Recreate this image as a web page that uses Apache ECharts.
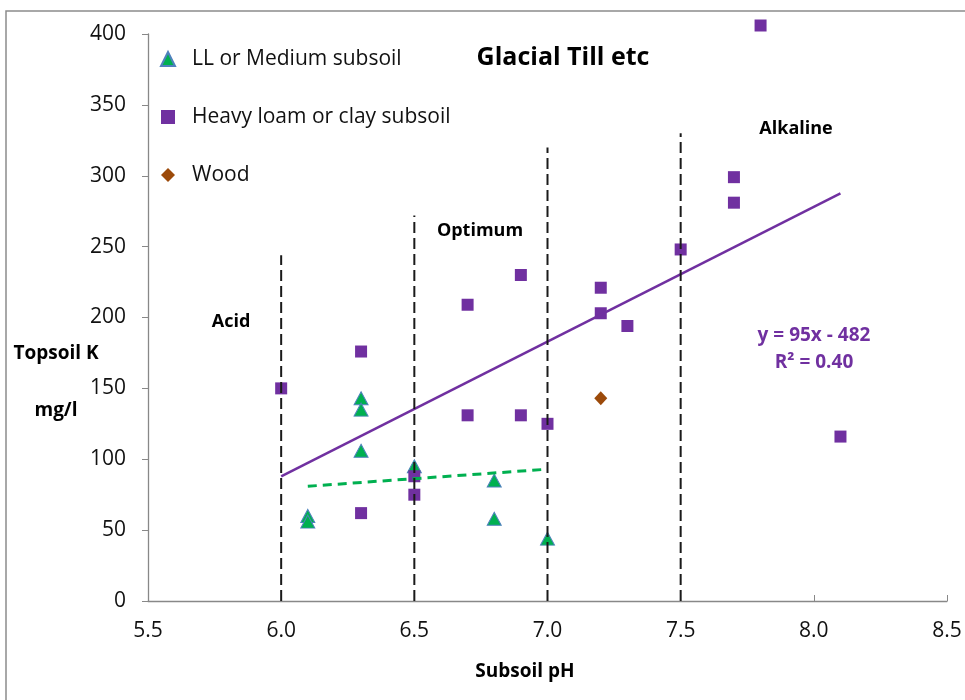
<!DOCTYPE html>
<html>
<head>
<meta charset="utf-8">
<script src="https://cdn.jsdelivr.net/npm/echarts@6/dist/echarts.min.js"></script>
<style>
  html, body { margin: 0; padding: 0; background: #fff; }
  #chart { width: 965px; height: 700px; }
</style>
</head>
<body>
<div id="chart"></div>
<script>
// Light loam / medium subsoil samples
const phLL = [6.1, 6.1, 6.3, 6.3, 6.3, 6.5, 6.8, 6.8, 7.0];
const kLL  = [60, 56, 143, 135, 106, 95, 85, 58, 44];

// Heavy loam or clay subsoil samples
const phHeavy = [6.0, 6.3, 6.3, 6.5, 6.5, 6.7, 6.7, 6.9, 6.9, 7.0, 7.2, 7.2, 7.3, 7.5, 7.7, 7.7, 7.8, 8.1];
const kHeavy  = [150, 176, 62, 88, 75, 209, 131, 230, 131, 125, 221, 203, 194, 248, 299, 281, 406, 116];

// Wood
const phWood = [7.2];
const kWood  = [143];

// Linear trends: [slope, intercept] and the pH span they cover
const heavyTrend = [95, -482];
const heavyTrendSpan = [6.0, 8.1];
const llTrend = [13.4, -0.8];
const llTrendSpan = [6.1, 7.0];

// pH zone boundaries and the height of each marker line
const zoneX   = [6.0, 6.5, 7.0, 7.5];
const zoneTop = [244, 272, 320, 330];

// Axis ticks
const xTicks = [5.5, 6.0, 6.5, 7.0, 7.5, 8.0, 8.5];
const yTicks = [0, 50, 100, 150, 200, 250, 300, 350, 400];

const FONT = '"Open Sans", sans-serif';
const PURPLE = '#7030A0';
const GREEN = '#00B050';
const BROWN = '#9C4A0A';

const zip = (xs, ys) => xs.map((x, i) => [x, ys[i]]);
const trendPoints = (coef, span) => span.map(x => [x, coef[0] * x + coef[1]]);

const chart = echarts.init(document.getElementById('chart'), null, { renderer: 'canvas' });

const zoneSeries = zoneX.map((x, i) => ({
  type: 'line',
  data: [[x, 0], [x, zoneTop[i]]],
  showSymbol: false,
  silent: true,
  z: 4,
  lineStyle: { color: '#1a1a1a', width: 2, type: [11, 5] }
}));

const option = {
  backgroundColor: '#fff',
  animation: false,
  textStyle: { fontFamily: FONT },
  grid: { left: 148, right: 18, top: 34, bottom: 99 },
  xAxis: {
    type: 'value',
    min: xTicks[0],
    max: xTicks[xTicks.length - 1],
    interval: 0.5,
    splitLine: { show: false },
    axisLine: { lineStyle: { color: '#888', width: 1.3 } },
    axisTick: { inside: true, length: 6, lineStyle: { color: '#888' } },
    axisLabel: {
      margin: 20, fontSize: 21, color: '#111', fontFamily: FONT,
      formatter: v => v.toFixed(1)
    }
  },
  yAxis: {
    type: 'value',
    min: yTicks[0],
    max: yTicks[yTicks.length - 1],
    interval: 50,
    splitLine: { show: false },
    axisLine: { show: true, lineStyle: { color: '#888', width: 1.3 } },
    axisTick: { show: true, length: 6, lineStyle: { color: '#888' } },
    axisLabel: { margin: 22, fontSize: 21, color: '#111', fontFamily: FONT }
  },
  legend: {
    orient: 'vertical',
    left: 160,
    top: 47,
    padding: 0,
    itemWidth: 14,
    itemHeight: 14,
    itemGap: 34,
    selectedMode: false,
    data: ['LL or Medium subsoil', 'Heavy loam or clay subsoil', 'Wood'],
    textStyle: { fontSize: 21, color: '#111', fontFamily: FONT, lineHeight: 24, padding: [0, 0, 0, 12] }
  },
  series: [
    {
      name: 'LL or Medium subsoil',
      type: 'scatter',
      symbol: 'triangle',
      symbolSize: [14, 13],
      clip: false,
      z: 2,
      itemStyle: { color: GREEN, borderColor: '#4F81BD', borderWidth: 1, opacity: 1 },
      data: zip(phLL, kLL)
    },
    {
      name: 'Heavy loam or clay subsoil',
      type: 'scatter',
      symbol: 'rect',
      symbolSize: 12,
      clip: false,
      z: 2,
      itemStyle: { color: PURPLE, opacity: 1 },
      data: zip(phHeavy, kHeavy)
    },
    {
      name: 'Wood',
      type: 'scatter',
      symbol: 'diamond',
      symbolSize: [13, 14],
      clip: false,
      z: 2,
      itemStyle: { color: BROWN, opacity: 1 },
      data: zip(phWood, kWood)
    },
    {
      type: 'line',
      data: trendPoints(heavyTrend, heavyTrendSpan),
      showSymbol: false,
      silent: true,
      z: 3,
      lineStyle: { color: PURPLE, width: 2.5 }
    },
    {
      type: 'line',
      data: trendPoints(llTrend, llTrendSpan),
      showSymbol: false,
      silent: true,
      z: 3,
      lineStyle: { color: GREEN, width: 3, type: [9, 6] }
    },
    ...zoneSeries
  ],
  graphic: [
    {
      type: 'rect', silent: true, z: 100,
      shape: { x: 6, y: 11, width: 1000, height: 1000 },
      style: { fill: 'none', stroke: '#8c8c8c', lineWidth: 1.5 }
    },
    {
      type: 'text', x: 563, y: 58,
      style: { text: 'Glacial Till etc', font: `bold 25px ${FONT}`, fill: '#000', align: 'center', verticalAlign: 'middle' }
    },
    {
      type: 'text', x: 231, y: 322,
      style: { text: 'Acid', font: `bold 18px ${FONT}`, fill: '#000', align: 'center', verticalAlign: 'middle' }
    },
    {
      type: 'text', x: 480, y: 231,
      style: { text: 'Optimum', font: `bold 18px ${FONT}`, fill: '#000', align: 'center', verticalAlign: 'middle' }
    },
    {
      type: 'text', x: 796, y: 129,
      style: { text: 'Alkaline', font: `bold 18px ${FONT}`, fill: '#000', align: 'center', verticalAlign: 'middle' }
    },
    {
      type: 'text', x: 814, y: 336,
      style: { text: 'y = 95x - 482', font: `bold 19px ${FONT}`, fill: PURPLE, align: 'center', verticalAlign: 'middle' }
    },
    {
      type: 'text', x: 814, y: 363,
      style: { text: 'R² = 0.40', font: `bold 19px ${FONT}`, fill: PURPLE, align: 'center', verticalAlign: 'middle' }
    },
    {
      type: 'text', x: 56, y: 354,
      style: { text: 'Topsoil K', font: `bold 19px ${FONT}`, fill: '#000', align: 'center', verticalAlign: 'middle' }
    },
    {
      type: 'text', x: 56, y: 411,
      style: { text: 'mg/l', font: `bold 19px ${FONT}`, fill: '#000', align: 'center', verticalAlign: 'middle' }
    },
    {
      type: 'text', x: 525, y: 672,
      style: { text: 'Subsoil pH', font: `bold 19px ${FONT}`, fill: '#000', align: 'center', verticalAlign: 'middle' }
    }
  ]
};

chart.setOption(option);
</script>
</body>
</html>
